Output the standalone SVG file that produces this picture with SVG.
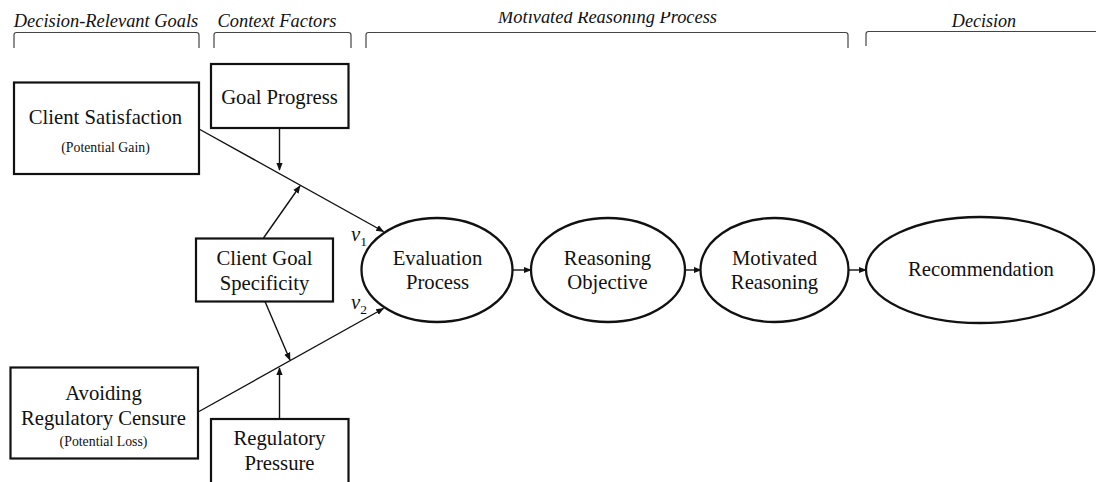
<svg xmlns="http://www.w3.org/2000/svg" width="1096" height="482" viewBox="0 0 1096 482" font-family="'Liberation Serif', 'Times New Roman', Times, serif">
  <style>
    text { font-family: "Liberation Serif", "Times New Roman", Times, serif; fill: #111; }
    .head { font-size: 18.4px; font-style: italic; text-anchor: middle; }
    .lbl { font-size: 20.7px; text-anchor: middle; }
    .small { font-size: 13.8px; text-anchor: middle; }
    .box { fill: #fff; stroke: #111; stroke-width: 2.2; }
    .oval { fill: #fff; stroke: #111; stroke-width: 2.3; }
    .bracket { fill: none; stroke: #444; stroke-width: 1.2; }
    .link { fill: none; stroke: #111; stroke-width: 1.4; marker-end: url(#arrow); }
  </style>
  <defs>
    <marker id="arrow" viewBox="0 0 10 10" refX="9" refY="5" markerWidth="8" markerHeight="8" markerUnits="userSpaceOnUse" orient="auto">
      <path d="M0,1 L10,5 L0,9 z" fill="#111"/>
    </marker>
    <clipPath id="top-edge">
      <rect x="0" y="12" width="1096" height="470"/>
    </clipPath>
  </defs>
  <rect width="1096" height="482" fill="#fff"/>

  <!-- column headings with brackets -->
  <g id="headings">
    <text class="head" x="106" y="26.5">Decision-Relevant Goals</text>
    <text class="head" x="277" y="26.5">Context Factors</text>
    <text class="head" x="607.5" y="22.5" clip-path="url(#top-edge)">Motivated Reasoning Process</text>
    <text class="head" x="984" y="26.5" style="font-size:18.1px">Decision</text>
    <path class="bracket" d="M14,48 V35 Q14,32.5 16.5,32.5 H196.5 Q199,32.5 199,35 V48"/>
    <path class="bracket" d="M214,48 V35 Q214,32.5 216.5,32.5 H348.5 Q351,32.5 351,35 V48"/>
    <path class="bracket" d="M366,48 V35 Q366,32.5 368.5,32.5 H845.5 Q848,32.5 848,35 V48"/>
    <path class="bracket" d="M866,46 V34 Q866,31.5 868.5,31.5 H1096"/>
  </g>

  <!-- connectors -->
  <g id="connectors">
    <line class="link" x1="199" y1="129" x2="383.5" y2="231.5"/>
    <line class="link" x1="199" y1="411.5" x2="383.5" y2="308.5"/>
    <line class="link" x1="279.5" y1="128" x2="279.5" y2="170"/>
    <line class="link" x1="263.5" y1="238" x2="300" y2="186"/>
    <line class="link" x1="265" y1="301.5" x2="290" y2="360"/>
    <line class="link" x1="279.5" y1="419" x2="279.5" y2="368"/>
    <line class="link" x1="512.5" y1="270" x2="531" y2="270"/>
    <line class="link" x1="685" y1="270" x2="701" y2="270"/>
    <line class="link" x1="848.5" y1="270" x2="866" y2="270"/>
    <text x="351" y="241" font-size="20.7" font-style="italic">v<tspan font-size="13.5" font-style="normal" dy="5">1</tspan></text>
    <text x="351" y="309" font-size="20.7" font-style="italic">v<tspan font-size="13.5" font-style="normal" dy="5">2</tspan></text>
  </g>

  <g id="client-satisfaction">
    <rect class="box" x="14" y="82.5" width="185" height="91.5"/>
    <text class="lbl" x="105.5" y="123.5">Client Satisfaction</text>
    <text class="small" x="105.5" y="151.5">(Potential Gain)</text>
  </g>

  <g id="goal-progress">
    <rect class="box" x="211" y="64" width="137.5" height="64"/>
    <text class="lbl" x="279.5" y="103.5">Goal Progress</text>
  </g>

  <g id="client-goal-specificity">
    <rect class="box" x="196" y="238.5" width="137" height="63"/>
    <text class="lbl" x="264.5" y="265">Client Goal</text>
    <text class="lbl" x="264.5" y="290">Specificity</text>
  </g>

  <g id="avoiding-regulatory-censure">
    <rect class="box" x="10.5" y="367.5" width="187.5" height="91"/>
    <text class="lbl" x="103.5" y="400">Avoiding</text>
    <text class="lbl" x="103.5" y="425">Regulatory Censure</text>
    <text class="small" x="103.5" y="446">(Potential Loss)</text>
  </g>

  <g id="regulatory-pressure">
    <rect class="box" x="211" y="419" width="137.5" height="66"/>
    <text class="lbl" x="279.5" y="445">Regulatory</text>
    <text class="lbl" x="279.5" y="470">Pressure</text>
  </g>

  <g id="evaluation-process">
    <ellipse class="oval" cx="437" cy="270" rx="75.5" ry="52"/>
    <text class="lbl" x="437.5" y="265">Evaluation</text>
    <text class="lbl" x="437.5" y="289">Process</text>
  </g>

  <g id="reasoning-objective">
    <ellipse class="oval" cx="608" cy="270" rx="77" ry="52"/>
    <text class="lbl" x="607.5" y="265">Reasoning</text>
    <text class="lbl" x="607.5" y="289">Objective</text>
  </g>

  <g id="motivated-reasoning">
    <ellipse class="oval" cx="774.5" cy="270" rx="74" ry="52"/>
    <text class="lbl" x="774.5" y="265">Motivated</text>
    <text class="lbl" x="774.5" y="289">Reasoning</text>
  </g>

  <g id="recommendation">
    <ellipse class="oval" cx="980" cy="270" rx="114" ry="53"/>
    <text class="lbl" x="981" y="276">Recommendation</text>
  </g>
</svg>
